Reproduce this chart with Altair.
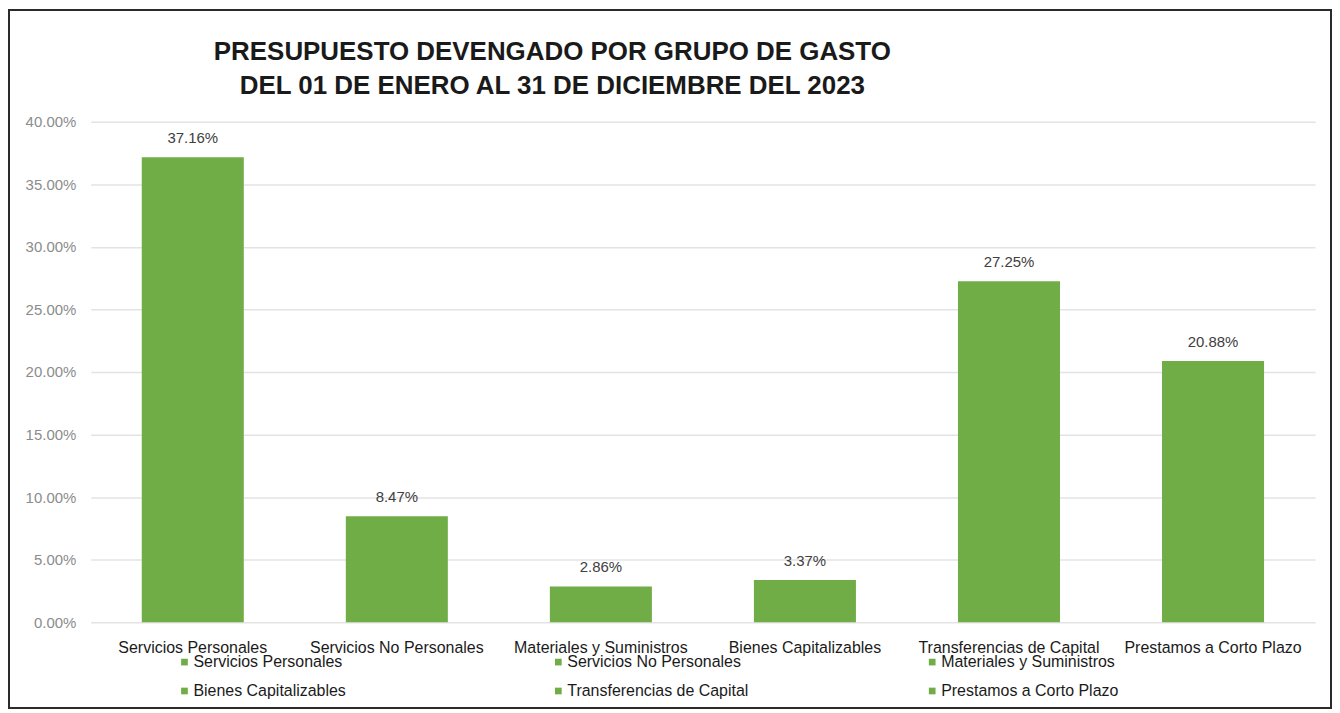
import altair as alt
import pandas as pd

categories = [
    "Servicios Personales",
    "Servicios No Personales",
    "Materiales y Suministros",
    "Bienes Capitalizables",
    "Transferencias de Capital",
    "Prestamos a Corto Plazo",
]
values = [0.3716, 0.0847, 0.0286, 0.0337, 0.2725, 0.2088]
y_ticks = [0, 0.05, 0.10, 0.15, 0.20, 0.25, 0.30, 0.35, 0.40]
title_lines = [
    "PRESUPUESTO DEVENGADO POR GRUPO DE GASTO",
    "DEL 01 DE ENERO AL 31 DE DICIEMBRE DEL  2023",
]
# legend reads row by row in the reference; the legend grid fills column by column
legend_order = [categories[i] for i in (0, 3, 1, 4, 2, 5)]

GREEN = "#70AD47"
W, H = 1228, 502

df = pd.DataFrame({"cat": categories, "val": values})

x = alt.X(
    "cat:N",
    sort=categories,
    title=None,
    scale=alt.Scale(paddingInner=0.5, paddingOuter=0.25),
    axis=alt.Axis(
        labelAngle=0, labelFontSize=16, labelColor="#1a1a1a", labelFont="Liberation Sans",
        labelPadding=17, ticks=False, domain=False, labelLimit=400, grid=False,
    ),
)
y = alt.Y(
    "val:Q",
    title=None,
    scale=alt.Scale(domain=[0, 0.40]),
    axis=alt.Axis(
        values=y_ticks, format=".2%", labelFontSize=15, labelColor="#8c8c8c",
        labelFont="Liberation Sans", ticks=False, domain=False, labelPadding=15,
        gridColor="#e3e3e3", gridWidth=1.5,
    ),
)

bars = alt.Chart(df).mark_bar(color=GREEN).encode(
    x=x,
    y=y,
    color=alt.Color(
        "cat:N",
        sort=legend_order,
        scale=alt.Scale(domain=legend_order, range=[GREEN] * 6),
        legend=alt.Legend(
            title=None, orient="none", legendX=86, legendY=534, columns=3,
            columnPadding=176, rowPadding=13, gridAlign="all",
            symbolType="square", symbolSize=45, symbolStrokeWidth=0,
            labelFontSize=16, labelFont="Liberation Sans", labelColor="#1a1a1a",
            labelLimit=400, symbolOffset=0, labelOffset=1,
        ),
    ),
)

labels = alt.Chart(df).mark_text(
    baseline="bottom", dy=-11, fontSize=15, color="#404040", font="Liberation Sans"
).encode(x=alt.X("cat:N", sort=categories), y="val:Q", text=alt.Text("val:Q", format=".2%"))

frame = alt.Chart(pd.DataFrame({"a": [0]})).mark_rect(
    fillOpacity=0, stroke="#2b2b2b", strokeWidth=2
).encode(
    x=alt.value(-82), x2=alt.value(1244), y=alt.value(-112), y2=alt.value(588)
)

chart = alt.layer(frame, bars, labels).properties(
    width=W,
    height=H,
    padding=0,
    background="white",
    title=alt.Title(
        title_lines, fontSize=26, font="Liberation Sans", fontWeight="bold",
        color="#1a1a1a", anchor="middle", dx=-151, lineHeight=34, offset=-90,
    ),
).configure_view(strokeWidth=0)

chart.save("out.html", embed_options={"renderer": "svg", "actions": False})
